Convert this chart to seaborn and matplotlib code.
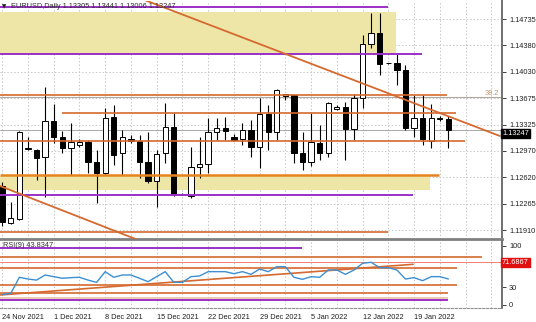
import numpy as np
import pandas as pd
import matplotlib
matplotlib.use("Agg")
import matplotlib.pyplot as plt
import seaborn as sns
from matplotlib.transforms import blended_transform_factory as btf

sns.set_theme(style="white")
plt.rcParams['font.family'] = ['Liberation Sans', 'DejaVu Sans']

# ---------------- data ----------------
opens = [1.12501, 1.12006, 1.12060, 1.13009, 1.12983, 1.12893, 1.13375, 1.13161, 1.13005, 1.13050,
         1.13086, 1.12826, 1.12679, 1.13428, 1.12939, 1.13126, 1.13107, 1.12826, 1.12572, 1.12939,
         1.13286, 1.12387, 1.12367, 1.12759, 1.12795, 1.13227, 1.13273, 1.13161, 1.13126, 1.13250,
         1.13019, 1.13464, 1.13227, 1.13705, 1.13718, 1.12947, 1.12826, 1.13080, 1.12947, 1.13527,
         1.13554, 1.13260, 1.13674, 1.14396, 1.14544, 1.14146, 1.14150, 1.14053, 1.13281, 1.13415,
         1.13103, 1.13404, 1.13395]
highs = [1.12555, 1.12287, 1.13237, 1.13157, 1.12996, 1.13825, 1.13598, 1.13241, 1.13340, 1.13130,
         1.13116, 1.12983, 1.13540, 1.13585, 1.13250, 1.13183, 1.13183, 1.13227, 1.12983, 1.13607,
         1.13473, 1.12401, 1.13027, 1.13161, 1.13407, 1.13407, 1.13428, 1.13197, 1.13340, 1.13384,
         1.13674, 1.13585, 1.13799, 1.13732, 1.13725, 1.13227, 1.13473, 1.13317, 1.13629, 1.13578,
         1.13629, 1.13728, 1.14521, 1.14811, 1.14811, 1.14153, 1.14276, 1.14120, 1.13718, 1.13718,
         1.13594, 1.13438, 1.13441]
lows = [1.11966, 1.11993, 1.12046, 1.12983, 1.12581, 1.12358, 1.13076, 1.12943, 1.12648, 1.13023,
        1.12671, 1.12270, 1.12662, 1.12782, 1.12648, 1.13072, 1.12604, 1.12537, 1.12224, 1.12805,
        1.12367, 1.12374, 1.12337, 1.12604, 1.12671, 1.13116, 1.13116, 1.13103, 1.13050, 1.12893,
        1.12738, 1.12983, 1.13116, 1.13652, 1.12805, 1.12715, 1.12769, 1.12849, 1.12893, 1.13518,
        1.12849, 1.13116, 1.13540, 1.14343, 1.13986, 1.14133, 1.13852, 1.13250, 1.13161, 1.13050,
        1.13005, 1.13371, 1.13006]
closes = [1.12020, 1.12073, 1.13223, 1.12996, 1.12876, 1.13375, 1.13161, 1.13005, 1.13094, 1.13094,
          1.12826, 1.12679, 1.13415, 1.12916, 1.13161, 1.13103, 1.12826, 1.12572, 1.12925, 1.13286,
          1.12381, 1.12394, 1.12759, 1.12795, 1.13227, 1.13273, 1.13241, 1.13116, 1.13250, 1.13027,
          1.13460, 1.13227, 1.13785, 1.13728, 1.12947, 1.12826, 1.13094, 1.12947, 1.13607, 1.13562,
          1.13260, 1.13674, 1.14396, 1.14544, 1.14133, 1.14140, 1.14053, 1.13273, 1.13407, 1.13130,
          1.13407, 1.13411, 1.13247]
rsi = [17.5, 19.7, 46.7, 43.8, 42.0, 50.6, 47.8, 45.0, 46.1, 46.7,
       42.0, 38.2, 56.2, 46.7, 50.6, 50.6, 45.0, 39.3, 47.8, 56.2,
       38.2, 38.2, 47.8, 48.9, 56.2, 56.2, 56.2, 52.8, 56.2, 51.7,
       60.7, 56.2, 64.6, 64.6, 46.7, 43.3, 47.8, 46.7, 59.0, 59.0,
       51.7, 59.0, 70.3, 72.0, 62.9, 62.9, 59.0, 43.8, 46.1, 41.0,
       47.8, 47.8, 43.8347]

date_labels = ['24 Nov 2021', '1 Dec 2021', '8 Dec 2021', '15 Dec 2021', '22 Dec 2021',
               '29 Dec 2021', '5 Jan 2022', '12 Jan 2022', '19 Jan 2022']
date_bars = [0, 6, 12, 18, 24, 30, 36, 42, 48]
price_tick_labels = ['1.11910', '1.12265', '1.12620', '1.12970', '1.13325',
                     '1.13675', '1.14030', '1.14380', '1.14735']
rsi_tick_values = [0, 30, 100]

# horizontal objects: price, start bar, end bar
hline_prices = [1.14899, 1.14267, 1.13725, 1.13474, 1.13103, 1.12644, 1.12381, 1.11886]
hline_starts = [-0.3, -0.3, -0.3, 6.93, -0.3, -0.3, -0.3, -0.3]
hline_ends = [44.93, 48.9, 51.84, 52.9, 53.9, 50.9, 47.88, 44.96]
hline_kinds = ['purple', 'purple', 'orange', 'orange', 'orange', 'orange2', 'purple', 'orange']

zone_top = [1.14824, 1.14267]      # upper yellow zone (top, bottom)
zone_top_end = 45.9
zone_low = [1.12635, 1.12441]
zone_low_end = 49.86

fib_price = 1.13696
bid_price = 1.13247

trend_up_bars = [14.0, 58.0]
trend_up_prices = [1.15103, 1.13170]
trend_lo_bars = [-0.26, 15.83]
trend_lo_prices = [1.12501, 1.11779]

rsi_levels = [96.0, 80.4, 61.9, 33.2, 19.7, 12.3, 7.9]
rsi_level_ends = [34.94, 55.92, 52.97, 52.97, 51.92, 51.92, 51.92]
rsi_level_kinds = ['purple', 'orange', 'orange', 'orange', 'orange', 'tan', 'purple']
rsi_marker = 71.6867
rsi_trend_bars = [-0.26, 47.88]
rsi_trend_vals = [16.9, 68.6]

# ---------------- styles ----------------
COL = {'purple': ('#9b30c8', 1.4), 'orange': ('#d5692f', 1.2), 'orange2': ('#e5841e', 1.8),
       'tan': ('#e8c4a4', 1.2)}
FS = 5.3

n = len(opens)
df = pd.DataFrame({'bar': np.arange(n), 'open': opens, 'high': highs, 'low': lows,
                   'close': closes, 'rsi': rsi})

fig = plt.figure(figsize=(5.36, 3.22), dpi=100)
W, H = 536, 322
ax = fig.add_axes([0, 1 - 239 / H, 502 / W, 238 / H])
ax2 = fig.add_axes([0, 1 - 308 / H, 502 / W, 67 / H], sharex=ax)

xmin, xmax = -0.26, 58.25
ax.set_xlim(xmin, xmax)
ax.set_ylim(1.11792, 1.14976)
ax2.set_ylim(-5.06, 107.9)

# grids
tick_prices = np.linspace(1.11910, 1.14735, 9)
for a in (ax, ax2):
    for b in range(0, 59, 3):
        a.axvline(b, color='#c8c8c8', lw=0.7, ls=(0, (1.5, 2)), zorder=0.5)
for p in tick_prices:
    ax.axhline(p, color='#c8c8c8', lw=0.7, ls=(0, (1.5, 2)), zorder=0.5)

# zones
ax.fill_between([xmin - 1, zone_top_end], zone_top[1], zone_top[0], color='#eee6a6', zorder=1, lw=0)
ax.fill_between([xmin - 1, zone_low_end], zone_low[1], zone_low[0], color='#eee6a6', zorder=1, lw=0)

# bid and fib lines
ax.axhline(bid_price, color='#a8a8a8', lw=0.7, zorder=1.5)
ax.axhline(fib_price, color='#b0a8a0', lw=0.8, zorder=1.5)
ax.text(0.995, fib_price, '38.2', transform=btf(ax.transAxes, ax.transData), ha='right',
        va='bottom', fontsize=FS, color='#c09a70', zorder=6)

# candles
up = df['close'] >= df['open']
body_lo = np.minimum(df['open'], df['close'])
body_h = np.maximum(np.abs(df['close'] - df['open']), 0.00005)
ax.vlines(df['bar'], df['low'], df['high'], color='black', lw=0.8, zorder=3)
ax.bar(df['bar'][up], body_h[up], bottom=body_lo[up], width=0.62, color='white',
       edgecolor='black', lw=0.7, zorder=4)
ax.bar(df['bar'][~up], body_h[~up], bottom=body_lo[~up], width=0.62, color='black',
       edgecolor='black', lw=0.7, zorder=4)

# horizontal objects
for p, s, e, k in zip(hline_prices, hline_starts, hline_ends, hline_kinds):
    c, lw = COL[k]
    ax.plot([s, e], [p, p], color=c, lw=lw, zorder=5, solid_capstyle='butt')
# trend lines
ax.plot(trend_up_bars, trend_up_prices, color='#d5692f', lw=1.3, zorder=5)
ax.plot(trend_lo_bars, trend_lo_prices, color='#d5692f', lw=1.3, zorder=5)

# title
ax.text(0.004, 0.985, '\u25bc', transform=ax.transAxes, fontsize=4, color='#202020',
        ha='left', va='top', family=['DejaVu Sans'], zorder=7)
ax.text(0.022, 0.993, 'EURUSD,Daily 1.13305 1.13441 1.13006 1.13247', transform=ax.transAxes,
        fontsize=FS, color='#303030', ha='left', va='top', zorder=7)

# price axis
ax.yaxis.tick_right()
ax.set_yticks(tick_prices)
ax.set_yticklabels(price_tick_labels)
ax.tick_params(axis='y', labelsize=FS, length=3, width=0.6, pad=2, colors='#202020', direction='out')
ax.tick_params(axis='x', labelbottom=False, length=0)
ax.text(1.0, bid_price, '1.13247', transform=btf(ax.transAxes, ax.transData), ha='left',
        va='top', fontsize=FS, color='white', zorder=8, clip_on=False,
        bbox=dict(boxstyle='square,pad=0.15', fc='black', ec='black'))

# ---------------- RSI panel ----------------
for v, e, k in zip(rsi_levels, rsi_level_ends, rsi_level_kinds):
    c, lw = COL[k]
    ax2.plot([xmin - 1, e], [v, v], color=c, lw=lw, zorder=3, solid_capstyle='butt')
ax2.axhline(rsi_marker, color='#f08070', lw=0.7, zorder=2)
ax2.plot(rsi_trend_bars, rsi_trend_vals, color='#d5692f', lw=1.2, zorder=4)
sns.lineplot(data=df, x='bar', y='rsi', ax=ax2, color='#3d8fd0', lw=1.0, zorder=5)
ax2.set_xlabel('')
ax2.set_ylabel('')
ax2.text(0.006, 0.985, 'RSI(9) 43.8347', transform=ax2.transAxes, fontsize=FS,
         color='#303030', ha='left', va='top', zorder=7)
ax2.yaxis.tick_right()
ax2.set_yticks(rsi_tick_values)
ax2.set_yticklabels([str(v) for v in rsi_tick_values])
ax2.tick_params(axis='y', labelsize=FS, length=3, width=0.6, pad=2, colors='#202020')
ax2.text(1.0, rsi_marker, '71.6867', transform=btf(ax2.transAxes, ax2.transData), ha='left',
         va='center', fontsize=FS, color='white', zorder=8, clip_on=False,
         bbox=dict(boxstyle='square,pad=0.2', fc='#e01010', ec='#e01010'))
ax2.set_xticks(date_bars)
ax2.set_xticklabels(date_labels, ha='left')
ax2.tick_params(axis='x', labelsize=FS, length=2.5, width=0.6, pad=2, colors='#202020')

for a in (ax, ax2):
    a.grid(False)
    for s in ('left', 'top'):
        a.spines[s].set_visible(False)
    a.spines['right'].set_color('#707070')
    a.spines['right'].set_linewidth(1.4)
ax.spines['bottom'].set_color('#808080')
ax.spines['bottom'].set_linewidth(2.0)
ax2.spines['bottom'].set_color('#909090')
ax2.spines['bottom'].set_linewidth(0.8)
ax2.spines['bottom'].set_linestyle((0, (2, 1.5)))

fig.savefig('out.png', dpi=100)
